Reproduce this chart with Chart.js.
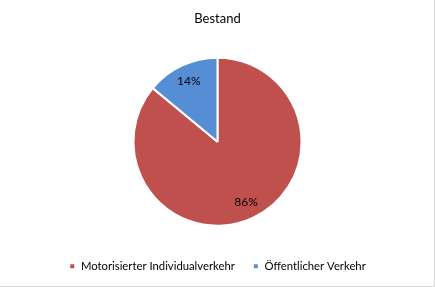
<!DOCTYPE html>
<html>
<head>
<meta charset="utf-8">
<script src="https://cdn.jsdelivr.net/npm/chart.js@4"></script>
<style>
  html, body { margin: 0; padding: 0; background: #fff; }
  #wrap { width: 435px; height: 287px; }
</style>
</head>
<body>
<div id="wrap"><canvas id="pie-chart"></canvas></div>
<script>
const categories = ['Motorisierter Individualverkehr', 'Öffentlicher Verkehr'];
const shares = [86, 14];
const colors = ['#C0504D', '#558ED5'];
const chartTitle = 'Bestand';

// percent labels inside the slices, like Excel's data labels
const sliceLabels = {
  id: 'sliceLabels',
  afterDatasetsDraw(chart) {
    const ctx = chart.ctx;
    const meta = chart.getDatasetMeta(0);
    const total = shares.reduce((a, b) => a + b, 0);
    ctx.save();
    ctx.font = '12px Lato';
    ctx.fillStyle = '#000';
    ctx.textAlign = 'center';
    ctx.textBaseline = 'middle';
    meta.data.forEach((arc, i) => {
      const mid = (arc.startAngle + arc.endAngle) / 2;
      const r = arc.outerRadius * 0.8;
      const x = arc.x + Math.cos(mid) * r;
      const y = arc.y + Math.sin(mid) * r;
      ctx.fillText(Math.round(shares[i] / total * 100) + '%', x, y);
    });
    ctx.restore();
  }
};

// thin grey frame on the right and bottom edge
const frame = {
  id: 'frame',
  afterDraw(chart) {
    const ctx = chart.ctx;
    ctx.save();
    ctx.strokeStyle = '#d9d9d9';
    ctx.lineWidth = 1;
    ctx.beginPath();
    ctx.moveTo(chart.width - 0.5, 0);
    ctx.lineTo(chart.width - 0.5, chart.height - 0.5);
    ctx.lineTo(0, chart.height - 0.5);
    ctx.stroke();
    ctx.restore();
  }
};

new Chart(document.getElementById('pie-chart'), {
  type: 'pie',
  data: {
    labels: categories,
    datasets: [{
      data: shares,
      backgroundColor: colors,
      borderColor: '#fff',
      borderWidth: 2,
      radius: 84
    }]
  },
  options: {
    responsive: true,
    maintainAspectRatio: false,
    animation: false,
    layout: { padding: { bottom: 5 } },
    plugins: {
      title: {
        display: true,
        text: chartTitle,
        color: '#000',
        font: { family: 'Lato', size: 13, weight: 'normal' },
        padding: { top: 11, bottom: 14 }
      },
      legend: {
        position: 'bottom',
        labels: {
          color: '#000',
          font: { family: 'Lato', size: 11.3 },
          boxWidth: 6,
          boxHeight: 6,
          padding: 18
        }
      },
      tooltip: { enabled: false }
    }
  },
  plugins: [sliceLabels, frame]
});
</script>
</body>
</html>
